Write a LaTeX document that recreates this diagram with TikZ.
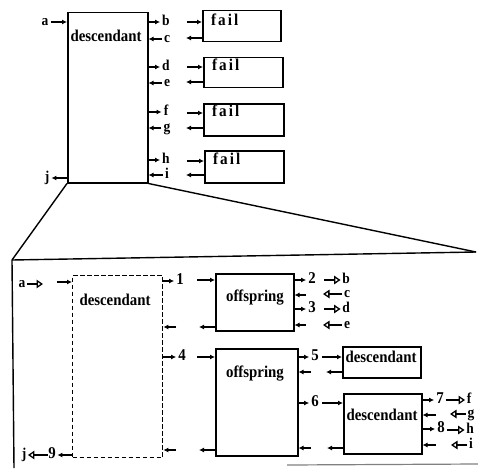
\documentclass[tikz,border=0pt]{standalone}
\usepackage{fontspec}
\setmainfont{Liberation Serif}
\newfontfamily\labfont{Liberation Serif}[FakeStretch=0.9]
\newfontfamily\failfont{Liberation Serif}[FakeStretch=0.92,LetterSpace=12]
\usetikzlibrary{arrows.meta}
\begin{document}
\begin{tikzpicture}[x=1pt,y=-1pt,
  box/.style={draw,line width=1.5pt,anchor=north west,inner sep=0pt},
  dbox/.style={box,line width=1.4pt,dash pattern=on 4.5pt off 2.5pt},
  lbl/.style={font=\labfont\bfseries\fontsize{16.5}{16.5}\selectfont,inner sep=0pt,text height=7.5pt,text depth=0pt},
  sl/.style={lbl,font=\labfont\bfseries\fontsize{15}{15}\selectfont,text height=7pt},
  flbl/.style={font=\failfont\bfseries\fontsize{16.5}{16.5}\selectfont,inner sep=0pt,text height=7.5pt,text depth=0pt,anchor=west},
  arr/.style={line width=1.5pt,-{Latex[length=5pt,width=5pt]}},
  harr/.style={line width=2.6pt,-{Triangle[open,length=6.5pt,width=8.5pt,line width=1.3pt]}},
  edge/.style={line width=1.4pt}]
\useasboundingbox (0,0) rectangle (478,468);
% ---------- top part ----------
\node[box,minimum width=80pt,minimum height=170pt] (D0) at (67,12) {};
\node[lbl] (D0t) at (106,38) {descendant};
\node[sl] (la) at (45,22) {a};
\draw[arr,shorten <=2pt] (la.east) -- (D0.west |- la);
\node[sl] (lj) at (47,178) {j};
\draw[arr,shorten >=2pt] (D0.west |- lj) -- (lj.east);
\foreach \n/\y in {b/22,d/67,f/112,h/160}{
  \node[sl] (l\n) at (166,\y) {\n};
  \draw[arr,shorten >=2pt] (D0.east |- l\n) -- (l\n.west);
}
\foreach \n/\y in {c/39,e/83,g/128,i/175}{
  \node[sl] (l\n) at (167,\y) {\n};
  \draw[arr,shorten <=2pt] (l\n.west) -- (D0.east |- l\n);
}
\foreach \k/\x/\y/\w/\h/\yi/\yo in {1/202/10/78/31/22/38,2/203/57/79/30/67/82,3/203/103/80/32/113/128,4/204/150/79/32/161/175}{
  \node[box,minimum width=\w pt,minimum height=\h pt] (F\k) at (\x,\y) {};
  \node[flbl] (F\k t) at ([xshift=9pt]F\k.west |- 0,\yi) {fail};
  \coordinate (F\k i) at (187,\yi);
  \coordinate (F\k o) at (186,\yo);
  \draw[arr] (F\k i) -- (F\k.west |- F\k i);
  \draw[arr] (F\k.west |- F\k o) -- (F\k o);
}
% ---------- zoom lines and outer frame ----------
\coordinate (Z1) at (12,260);
\coordinate (Z2) at (476,252);
\coordinate (Z3) at (14,468);
\coordinate (Z4) at (287,465);
\coordinate (Z5) at (478,464);
\draw[edge] (D0.south west) -- (Z1);
\draw[edge] (D0.south east) -- (Z2);
\draw[edge] (Z1) -- (Z2);
\draw[edge] (Z1) -- (Z3);
\draw[line width=1.2pt,gray] (Z4) -- (Z5);
% ---------- lower part ----------
\node[dbox,minimum width=90pt,minimum height=182pt] (DD) at (72,275) {};
\node[lbl] (DDt) at (115,302) {descendant};
\node[sl] (xa) at (22,284) {a};
\coordinate (xah) at (43,284);
\draw[harr,shorten <=1.5pt] (xa.east) -- (xah);
\coordinate (xai) at (57,282);
\draw[arr] (xai) -- (DD.west |- xai);
\node[sl] (xj) at (24,455) {j};
\node[lbl] (x9) at (52,455) {9};
\draw[harr,shorten >=1.5pt] (x9.west) -- (xj.east);
\draw[arr,shorten >=1.5pt] (DD.west |- x9) -- (x9.east);
\node[lbl] (n1) at (180,281) {1};
\draw[arr,shorten >=2pt] (DD.east |- n1) -- (n1.west);
\node[lbl] (n4) at (182,357) {4};
\draw[arr,shorten >=2pt] (DD.east |- n4) -- (n4.west);
\coordinate (dr1) at (176,327);
\coordinate (dr2) at (176,450);
\draw[arr] (dr1) -- (DD.east |- dr1);
\draw[arr] (dr2) -- (DD.east |- dr2);
% offspring 1
\node[box,minimum width=78pt,minimum height=57pt] (O1) at (215,273) {};
\node[lbl] (O1t) at (255,298) {offspring};
\coordinate (o1i) at (197,280);
\coordinate (o1o) at (199,327);
\draw[arr] (o1i) -- (O1.west |- o1i);
\draw[arr] (O1.west |- o1o) -- (o1o);
\node[lbl] (n2) at (312,280) {2};
\node[lbl] (n3) at (312,309) {3};
\draw[arr,shorten >=2pt] (O1.east |- n2) -- (n2.west);
\draw[arr,shorten >=2pt] (O1.east |- n3) -- (n3.west);
\coordinate (o1r1) at (306,295);
\coordinate (o1r2) at (306,325);
\draw[arr] (o1r1) -- (O1.east |- o1r1);
\draw[arr] (o1r2) -- (O1.east |- o1r2);
\node[sl] (yb) at (346,280) {b};
\node[sl] (yc) at (347,294) {c};
\node[sl] (yd) at (346,309) {d};
\node[sl] (ye) at (347,325) {e};
\coordinate (ybh) at (324,280);
\coordinate (ych) at (323,294);
\coordinate (ydh) at (324,309);
\coordinate (yeh) at (323,325);
\draw[harr,shorten >=1.5pt] (ybh) -- (yb.west);
\draw[harr,shorten <=1.5pt] (yc.west) -- (ych);
\draw[harr,shorten >=1.5pt] (ydh) -- (yd.west);
\draw[harr,shorten <=1.5pt] (ye.west) -- (yeh);
% offspring 2
\node[box,minimum width=82pt,minimum height=107pt] (O2) at (215,348) {};
\node[lbl] (O2t) at (255,374) {offspring};
\coordinate (o2i) at (197,357);
\coordinate (o2o) at (199,450);
\draw[arr] (o2i) -- (O2.west |- o2i);
\draw[arr] (O2.west |- o2o) -- (o2o);
\node[lbl] (n5) at (315,357) {5};
\node[lbl] (n6) at (315,403) {6};
\draw[arr,shorten >=2pt] (O2.east |- n5) -- (n5.west);
\draw[arr,shorten >=2pt] (O2.east |- n6) -- (n6.west);
\coordinate (o2r1) at (311,372);
\coordinate (o2r2) at (311,448);
\draw[arr] (o2r1) -- (O2.east |- o2r1);
\draw[arr] (o2r2) -- (O2.east |- o2r2);
% descendant A
\node[box,minimum width=78pt,minimum height=31pt] (DA) at (342,346) {};
\node[lbl] (DAt) at (381,359) {descendant};
\draw[arr,shorten <=3pt] (n5.east) -- (DA.west |- n5);
\coordinate (dao) at (326,372);
\draw[arr] (DA.west |- dao) -- (dao);
% descendant B
\node[box,minimum width=78pt,minimum height=60pt] (DB) at (343,393) {};
\node[lbl] (DBt) at (382,417) {descendant};
\draw[arr,shorten <=3pt] (n6.east) -- (DB.west |- n6);
\coordinate (dbo) at (327,448);
\draw[arr] (DB.west |- dbo) -- (dbo);
\node[lbl] (n7) at (440,400) {7};
\node[lbl] (n8) at (441,429) {8};
\draw[arr,shorten >=2pt] (DB.east |- n7) -- (n7.west);
\draw[arr,shorten >=2pt] (DB.east |- n8) -- (n8.west);
\coordinate (dbr1) at (436,415);
\coordinate (dbr2) at (436,445);
\draw[arr] (dbr1) -- (DB.east |- dbr1);
\draw[arr] (dbr2) -- (DB.east |- dbr2);
\node[sl] (zf) at (469,400) {f};
\node[sl] (zg) at (471,414) {g};
\node[sl] (zh) at (470,430) {h};
\node[sl] (zi) at (471,445) {i};
\draw[harr,shorten <=2pt,shorten >=1.5pt] (n7.east) -- (zf.west);
\coordinate (zgh) at (450,414);
\coordinate (zih) at (451,445);
\draw[harr,shorten <=1.5pt] (zg.west) -- (zgh);
\draw[harr,shorten <=2pt,shorten >=1.5pt] (n8.east |- zh) -- (zh.west);
\draw[harr,shorten <=1.5pt] (zi.west) -- (zih);
\end{tikzpicture}
\end{document}
